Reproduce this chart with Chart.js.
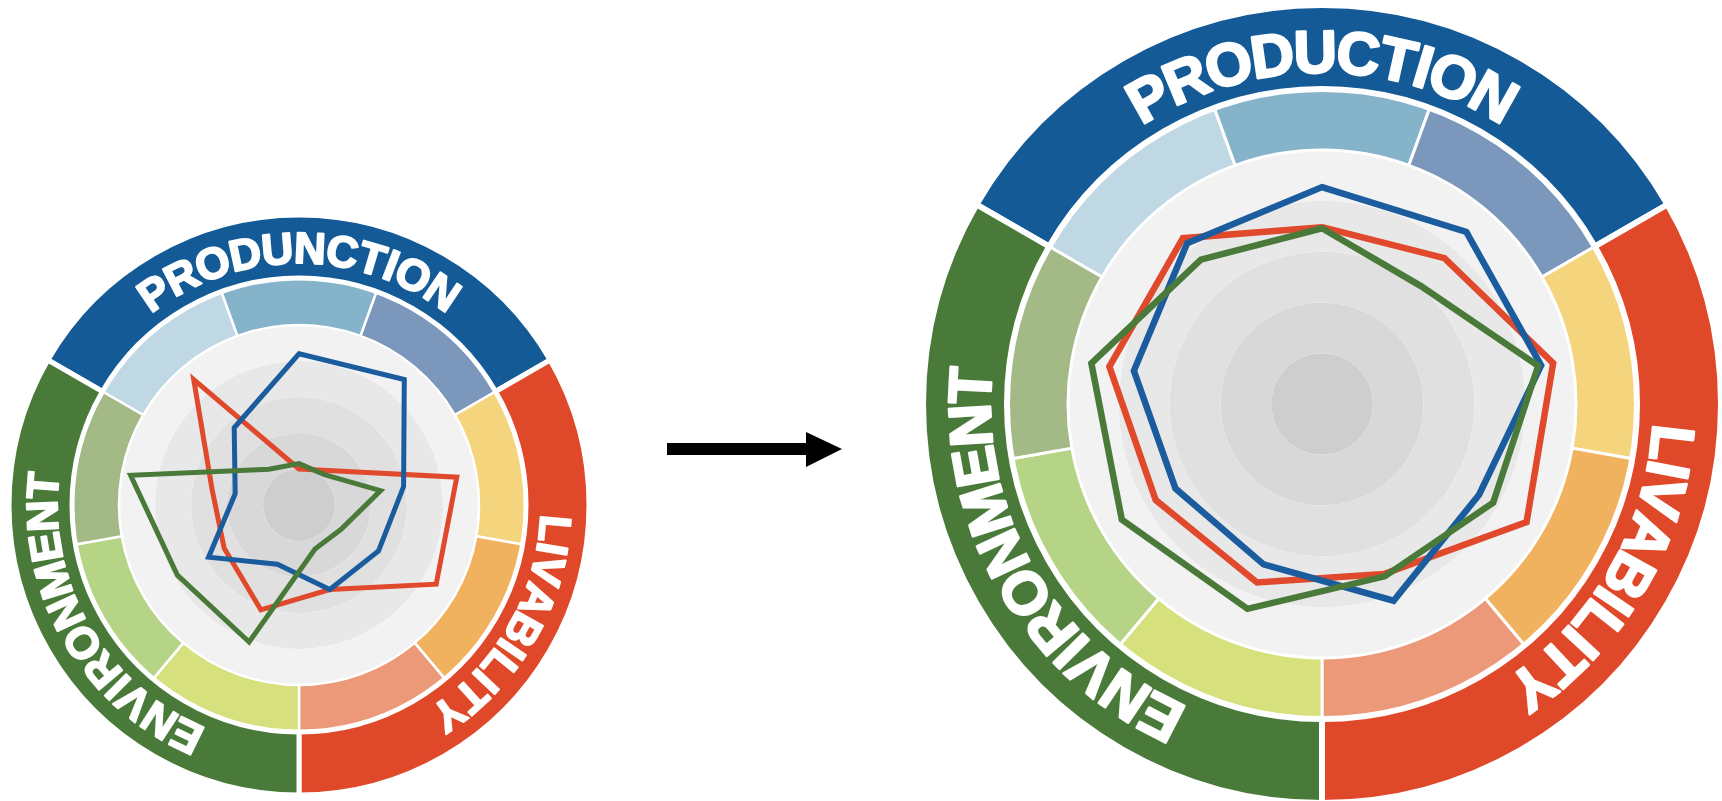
<!DOCTYPE html>
<html>
<head>
<meta charset="utf-8">
<script src="https://cdn.jsdelivr.net/npm/chart.js@4.4.1/dist/chart.umd.min.js"></script>
<style>
  html, body { margin: 0; padding: 0; background: #fff; overflow: hidden; }
  body { width: 1722px; height: 801px; position: relative; }
  .wheel { position: absolute; }
  .wheel canvas { position: absolute; left: 0; top: 0; }
  #arrow { position: absolute; left: 0; top: 0; }
</style>
</head>
<body>
<div class="wheel" id="before" style="left:9px;top:215px;width:580px;height:580px">
  <canvas id="beforeRings" width="580" height="580"></canvas>
  <canvas id="beforeRadar" width="580" height="580"></canvas>
</div>
<div class="wheel" id="after" style="left:923px;top:5px;width:798px;height:798px">
  <canvas id="afterRings" width="798" height="798"></canvas>
  <canvas id="afterRadar" width="798" height="798"></canvas>
</div>
<svg id="arrow" width="1722" height="801">
  <rect x="667" y="443" width="141" height="12" fill="#000"/>
  <polygon points="806,432 842,449 806,467" fill="#000"/>
</svg>
<script>
// nine indicators, three per dimension, clockwise from the top
const indicators = ["P1", "P2", "P3", "L1", "L2", "L3", "E1", "E2", "E3"];
const dimensionSizes = [3, 3, 3];
const beforeDimensions = ["PRODUNCTION", "LIVABILITY", "ENVIRONMENT"];
const afterDimensions = ["PRODUCTION", "LIVABILITY", "ENVIRONMENT"];
const scoreLevels = [5, 4, 3, 2, 1];

// scores 0-5
const beforeBlue = [4.2, 4.55, 2.95, 2.55, 2.5, 1.75, 2.9, 1.8, 2.8];
const beforeRed = [1.0, 1.25, 4.45, 4.4, 2.5, 3.1, 2.4, 2.45, 4.55];
const beforeGreen = [1.15, 1.1, 2.3, 1.35, 1.3, 4.05, 3.9, 4.75, 1.3];
const afterBlue = [4.27, 4.42, 4.38, 3.57, 4.12, 3.36, 3.33, 3.76, 4.13];
const afterRed = [3.48, 3.75, 4.62, 4.65, 3.56, 3.74, 3.78, 4.25, 4.26];
const afterGreen = [3.46, 3.03, 4.32, 3.89, 3.61, 4.29, 4.55, 4.61, 3.71];

const dimensionColors = ["#135a96", "#e0482a", "#4a7a3a"];
const indicatorColors = [
  "#c0d8e4", "#85b3ca", "#7b98bc",
  "#f4d57d", "#f1b25f", "#eb9979",
  "#d6e07c", "#b6d485", "#a3ba87",
];
const levelColors = ["#f2f2f2", "#e8e8e8", "#e0e0e0", "#d8d8d8", "#cecece"];
const lineColors = { blue: "#1b5c9e", red: "#e0492b", green: "#4a7a3a" };

const ringLabels = {
  id: "ringLabels",
  afterDatasetsDraw(chart, args, opts) {
    const ctx = chart.ctx;
    const meta = chart.getDatasetMeta(0);
    ctx.save();
    ctx.fillStyle = "#fff";
    ctx.strokeStyle = "#fff";
    ctx.lineWidth = opts.weight;
    ctx.lineJoin = "round";
    ctx.font = `bold ${opts.size}px "Liberation Sans", Arial, sans-serif`;
    ctx.textAlign = "center";
    ctx.textBaseline = "alphabetic";
    meta.data.forEach((arc, i) => {
      const p = arc.getProps(["x", "y", "startAngle", "endAngle", "innerRadius", "outerRadius"], true);
      const r = (p.innerRadius + p.outerRadius) / 2 + opts.shift;
      const chars = [...opts.labels[i]];
      const widths = chars.map((c) => ctx.measureText(c).width);
      const total = widths.reduce((a, b) => a + b, 0) + opts.spacing * (chars.length - 1);
      let a = (p.startAngle + p.endAngle) / 2 - total / 2 / r;
      chars.forEach((c, k) => {
        const mid = a + widths[k] / 2 / r;
        ctx.save();
        ctx.translate(p.x + r * Math.cos(mid), p.y + r * Math.sin(mid));
        ctx.rotate(mid + Math.PI / 2);
        ctx.fillText(c, 0, opts.size * 0.358);
        ctx.strokeText(c, 0, opts.size * 0.358);
        ctx.restore();
        a += (widths[k] + opts.spacing) / r;
      });
    });
    ctx.restore();
  },
};

function makeWheel(id, geo, labels, blue, red, green) {
  const levelStep = geo.disc / scoreLevels.length;
  const ringSets = [
    {
      data: dimensionSizes,
      backgroundColor: dimensionColors,
      borderColor: "#fff",
      borderWidth: geo.outerBorder,
      weight: geo.outerW,
    },
    {
      data: indicators.map(() => 1),
      backgroundColor: indicatorColors,
      borderColor: "#fff",
      borderWidth: geo.innerBorder,
      weight: geo.innerW,
    },
  ];
  scoreLevels.forEach((lvl, k) => {
    ringSets.push({
      data: [lvl],
      backgroundColor: levelColors[k],
      borderWidth: 0,
      weight: levelStep,
    });
  });

  new Chart(document.getElementById(id + "Rings"), {
    type: "doughnut",
    data: { labels: labels, datasets: ringSets },
    options: {
      responsive: false,
      animation: false,
      events: [],
      rotation: -60,
      cutout: 0,
      radius: geo.radius,
      hoverOffset: 0,
      plugins: {
        legend: { display: false },
        tooltip: { enabled: false },
        ringLabels: { labels: labels, size: geo.font, spacing: geo.spacing, shift: geo.shift, weight: geo.textStroke },
      },
    },
    plugins: [ringLabels],
  });

  const line = (data, color, order) => ({
    data: data,
    borderColor: color,
    borderWidth: geo.lineWidth,
    borderJoinStyle: "miter",
    fill: false,
    pointRadius: 0,
    order: order,
  });

  new Chart(document.getElementById(id + "Radar"), {
    type: "radar",
    data: {
      labels: indicators,
      datasets: [
        line(blue, lineColors.blue, 1),
        line(red, lineColors.red, 2),
        line(green, lineColors.green, 0),
      ],
    },
    options: {
      responsive: false,
      animation: false,
      events: [],
      layout: { padding: geo.size / 2 - geo.disc },
      elements: { line: { borderWidth: geo.lineWidth, borderJoinStyle: "miter" } },
      plugins: { legend: { display: false }, tooltip: { enabled: false } },
      scales: {
        r: {
          min: 0,
          max: 5,
          ticks: { display: false },
          grid: { display: false },
          angleLines: { display: false },
          pointLabels: { display: false },
        },
      },
    },
  });
}

makeWheel("before",
  { size: 580, radius: 290, outerW: 63, innerW: 47, disc: 180, outerBorder: 5, innerBorder: 2.5,
    font: 44, spacing: 1, shift: -1, textStroke: 2, lineWidth: 5 },
  beforeDimensions, beforeBlue, beforeRed, beforeGreen);

makeWheel("after",
  { size: 798, radius: 399, outerW: 84, innerW: 61, disc: 254, outerBorder: 6, innerBorder: 3,
    font: 60, spacing: 0, shift: -4, textStroke: 2.5, lineWidth: 6.5 },
  afterDimensions, afterBlue, afterRed, afterGreen);
</script>
</body>
</html>
